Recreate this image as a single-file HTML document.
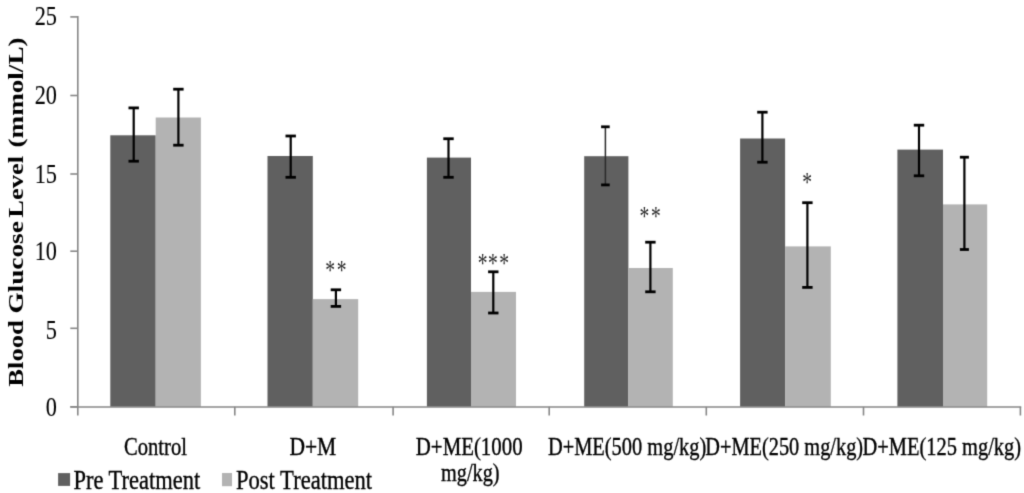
<!DOCTYPE html><html><head><meta charset="utf-8"><style>html,body{margin:0;padding:0;background:#fff;overflow:hidden}svg{display:block}text{font-family:"Liberation Serif","Times New Roman",serif;fill:#000;stroke:#000;stroke-width:0.35px}</style></head><body>
<svg width="1024" height="493" viewBox="0 0 1024 493">
<defs><filter id="bl" x="0" y="0" width="1" height="1" color-interpolation-filters="sRGB"><feConvolveMatrix order="3" kernelMatrix="0.0192 0.1001 0.0192 0.1001 0.5228 0.1001 0.0192 0.1001 0.0192" edgeMode="duplicate"/></filter></defs>
<g filter="url(#bl)">
<rect width="1024" height="493" fill="#fff"/>
<rect x="110.3" y="135.3" width="45.4" height="271.5" fill="#606060"/>
<rect x="155.7" y="117.5" width="45.2" height="289.3" fill="#b3b3b3"/>
<rect x="267.5" y="156.0" width="45.3" height="250.8" fill="#606060"/>
<rect x="312.8" y="299.1" width="45.4" height="107.7" fill="#b3b3b3"/>
<rect x="426.9" y="157.6" width="44.1" height="249.2" fill="#606060"/>
<rect x="471.0" y="291.9" width="45.0" height="114.9" fill="#b3b3b3"/>
<rect x="584.2" y="156.2" width="44.2" height="250.6" fill="#606060"/>
<rect x="628.4" y="268.0" width="44.4" height="138.8" fill="#b3b3b3"/>
<rect x="740.1" y="138.5" width="45.0" height="268.3" fill="#606060"/>
<rect x="785.1" y="246.4" width="45.7" height="160.4" fill="#b3b3b3"/>
<rect x="897.4" y="149.6" width="45.6" height="257.2" fill="#606060"/>
<rect x="943.0" y="204.4" width="44.2" height="202.4" fill="#b3b3b3"/>
<g stroke="#878787" stroke-width="1.6" fill="none">
<line x1="77.8" y1="16.1" x2="77.8" y2="415.5"/>
<line x1="70.3" y1="407.0" x2="1021.2" y2="407.0" stroke-width="1.4"/>
<line x1="70.3" y1="16.9" x2="77.8" y2="16.9"/>
<line x1="70.3" y1="95.5" x2="77.8" y2="95.5"/>
<line x1="70.3" y1="174.0" x2="77.8" y2="174.0"/>
<line x1="70.3" y1="251.2" x2="77.8" y2="251.2"/>
<line x1="70.3" y1="328.3" x2="77.8" y2="328.3"/>
<line x1="70.3" y1="406.8" x2="77.8" y2="406.8"/>
<line x1="234.8" y1="406.8" x2="234.8" y2="415.5"/>
<line x1="393.1" y1="406.8" x2="393.1" y2="415.5"/>
<line x1="549.2" y1="406.8" x2="549.2" y2="415.5"/>
<line x1="706.3" y1="406.8" x2="706.3" y2="415.5"/>
<line x1="863.5" y1="406.8" x2="863.5" y2="415.5"/>
<line x1="1020.4" y1="406.8" x2="1020.4" y2="415.5"/>
</g>
<g stroke="#000" fill="none">
<line x1="133.7" y1="107.9" x2="133.7" y2="161.2" stroke-width="2.2"/>
<line x1="128.5" y1="107.9" x2="138.9" y2="107.9" stroke-width="2.8"/>
<line x1="128.5" y1="161.2" x2="138.9" y2="161.2" stroke-width="2.8"/>
<line x1="178.4" y1="89.2" x2="178.4" y2="145.2" stroke-width="2.2"/>
<line x1="173.2" y1="89.2" x2="183.6" y2="89.2" stroke-width="2.8"/>
<line x1="173.2" y1="145.2" x2="183.6" y2="145.2" stroke-width="2.8"/>
<line x1="290.7" y1="136.0" x2="290.7" y2="177.3" stroke-width="2.2"/>
<line x1="285.5" y1="136.0" x2="295.9" y2="136.0" stroke-width="2.8"/>
<line x1="285.5" y1="177.3" x2="295.9" y2="177.3" stroke-width="2.8"/>
<line x1="335.9" y1="289.8" x2="335.9" y2="306.4" stroke-width="2.2"/>
<line x1="330.7" y1="289.8" x2="341.1" y2="289.8" stroke-width="2.8"/>
<line x1="330.7" y1="306.4" x2="341.1" y2="306.4" stroke-width="2.8"/>
<line x1="448.5" y1="138.75" x2="448.5" y2="177.3" stroke-width="2.2"/>
<line x1="443.3" y1="138.75" x2="453.7" y2="138.75" stroke-width="2.8"/>
<line x1="443.3" y1="177.3" x2="453.7" y2="177.3" stroke-width="2.8"/>
<line x1="493.3" y1="271.8" x2="493.3" y2="313.0" stroke-width="2.2"/>
<line x1="488.1" y1="271.8" x2="498.5" y2="271.8" stroke-width="2.8"/>
<line x1="488.1" y1="313.0" x2="498.5" y2="313.0" stroke-width="2.8"/>
<line x1="605.4" y1="126.8" x2="605.4" y2="184.9" stroke-width="1.5" stroke="#2a2a2a"/>
<line x1="601.1" y1="126.8" x2="609.7" y2="126.8" stroke-width="2.8"/>
<line x1="601.1" y1="184.9" x2="609.7" y2="184.9" stroke-width="2.8"/>
<line x1="650.4" y1="242.2" x2="650.4" y2="291.8" stroke-width="2.2"/>
<line x1="645.2" y1="242.2" x2="655.6" y2="242.2" stroke-width="2.8"/>
<line x1="645.2" y1="291.8" x2="655.6" y2="291.8" stroke-width="2.8"/>
<line x1="762.4" y1="112.2" x2="762.4" y2="162.2" stroke-width="2.2"/>
<line x1="757.2" y1="112.2" x2="767.6" y2="112.2" stroke-width="2.8"/>
<line x1="757.2" y1="162.2" x2="767.6" y2="162.2" stroke-width="2.8"/>
<line x1="807.4" y1="202.7" x2="807.4" y2="287.4" stroke-width="2.2"/>
<line x1="802.2" y1="202.7" x2="812.6" y2="202.7" stroke-width="2.8"/>
<line x1="802.2" y1="287.4" x2="812.6" y2="287.4" stroke-width="2.8"/>
<line x1="919.0" y1="125.2" x2="919.0" y2="175.8" stroke-width="2.2"/>
<line x1="913.8" y1="125.2" x2="924.2" y2="125.2" stroke-width="2.8"/>
<line x1="913.8" y1="175.8" x2="924.2" y2="175.8" stroke-width="2.8"/>
<line x1="964.4" y1="157.2" x2="964.4" y2="249.5" stroke-width="2.2"/>
<line x1="959.9" y1="157.2" x2="968.9" y2="157.2" stroke-width="2.8"/>
<line x1="959.9" y1="249.5" x2="968.9" y2="249.5" stroke-width="2.8"/>
</g>
<text transform="translate(56.9,25.1) scale(0.79,1)" text-anchor="end" font-size="28.2" style="stroke-width:0.1px">25</text>
<text transform="translate(56.9,103.7) scale(0.79,1)" text-anchor="end" font-size="28.2" style="stroke-width:0.1px">20</text>
<text transform="translate(56.9,182.9) scale(0.79,1)" text-anchor="end" font-size="28.2" style="stroke-width:0.1px">15</text>
<text transform="translate(56.9,259.9) scale(0.79,1)" text-anchor="end" font-size="28.2" style="stroke-width:0.1px">10</text>
<text transform="translate(56.9,338.6) scale(0.79,1)" text-anchor="end" font-size="28.2" style="stroke-width:0.1px">5</text>
<text transform="translate(56.9,415.6) scale(0.79,1)" text-anchor="end" font-size="28.2" style="stroke-width:0.1px">0</text>
<text transform="translate(22.8,400.0) rotate(-90)" x="13.19" font-weight="bold" font-size="21.5" style="stroke:none" textLength="66.75" lengthAdjust="spacingAndGlyphs">Blood</text>
<text transform="translate(22.8,400.0) rotate(-90)" x="86.43" font-weight="bold" font-size="21.5" style="stroke:none" textLength="92.34" lengthAdjust="spacingAndGlyphs">Glucose</text>
<text transform="translate(22.8,400.0) rotate(-90)" x="182.19" font-weight="bold" font-size="21.5" style="stroke:none" textLength="62.01" lengthAdjust="spacingAndGlyphs">Level</text>
<text transform="translate(22.8,400.0) rotate(-90)" x="252.54" font-weight="bold" font-size="21.5" style="stroke:none" textLength="110.03" lengthAdjust="spacingAndGlyphs">(mmol/L)</text>
<text x="124.02" y="454.6" font-size="24.2" textLength="62.95" lengthAdjust="spacingAndGlyphs">Control</text>
<text x="289.39" y="454.6" font-size="24.2" textLength="46.94" lengthAdjust="spacingAndGlyphs">D+M</text>
<text x="415.81" y="454.6" font-size="24.2" textLength="106.81" lengthAdjust="spacingAndGlyphs">D+ME(1000</text>
<text x="441.02" y="480.8" font-size="24.2" textLength="58.54" lengthAdjust="spacingAndGlyphs">mg/kg)</text>
<text x="547.92" y="454.6" font-size="24.2" textLength="158.41" lengthAdjust="spacingAndGlyphs">D+ME(500 mg/kg)</text>
<text x="705.32" y="454.6" font-size="24.2" textLength="157.81" lengthAdjust="spacingAndGlyphs">D+ME(250 mg/kg)</text>
<text x="862.52" y="454.6" font-size="24.2" textLength="158.61" lengthAdjust="spacingAndGlyphs">D+ME(125 mg/kg)</text>
<text transform="translate(330.20,279.00) scale(0.7,1)" text-anchor="middle" font-size="28" style="stroke:none;fill:#2a2a2a">*</text>
<text transform="translate(341.65,279.00) scale(0.7,1)" text-anchor="middle" font-size="28" style="stroke:none;fill:#2a2a2a">*</text>
<text transform="translate(482.60,272.00) scale(0.7,1)" text-anchor="middle" font-size="28" style="stroke:none;fill:#2a2a2a">*</text>
<text transform="translate(493.00,272.00) scale(0.7,1)" text-anchor="middle" font-size="28" style="stroke:none;fill:#2a2a2a">*</text>
<text transform="translate(504.20,272.00) scale(0.7,1)" text-anchor="middle" font-size="28" style="stroke:none;fill:#2a2a2a">*</text>
<text transform="translate(644.40,225.45) scale(0.7,1)" text-anchor="middle" font-size="28" style="stroke:none;fill:#2a2a2a">*</text>
<text transform="translate(655.90,225.45) scale(0.7,1)" text-anchor="middle" font-size="28" style="stroke:none;fill:#2a2a2a">*</text>
<text transform="translate(807.10,190.90) scale(0.7,1)" text-anchor="middle" font-size="28" style="stroke:none;fill:#2a2a2a">*</text>
<rect x="58.1" y="473.1" width="12" height="12.8" fill="#606060"/>
<rect x="222" y="473" width="10" height="13.2" fill="#b3b3b3"/>
<text x="73.39" y="488.6" font-size="28.0" textLength="126.97" lengthAdjust="spacingAndGlyphs">Pre Treatment</text>
<text x="235.98" y="488.6" font-size="28.0" textLength="136.16" lengthAdjust="spacingAndGlyphs">Post Treatment</text>
</g></svg></body></html>
